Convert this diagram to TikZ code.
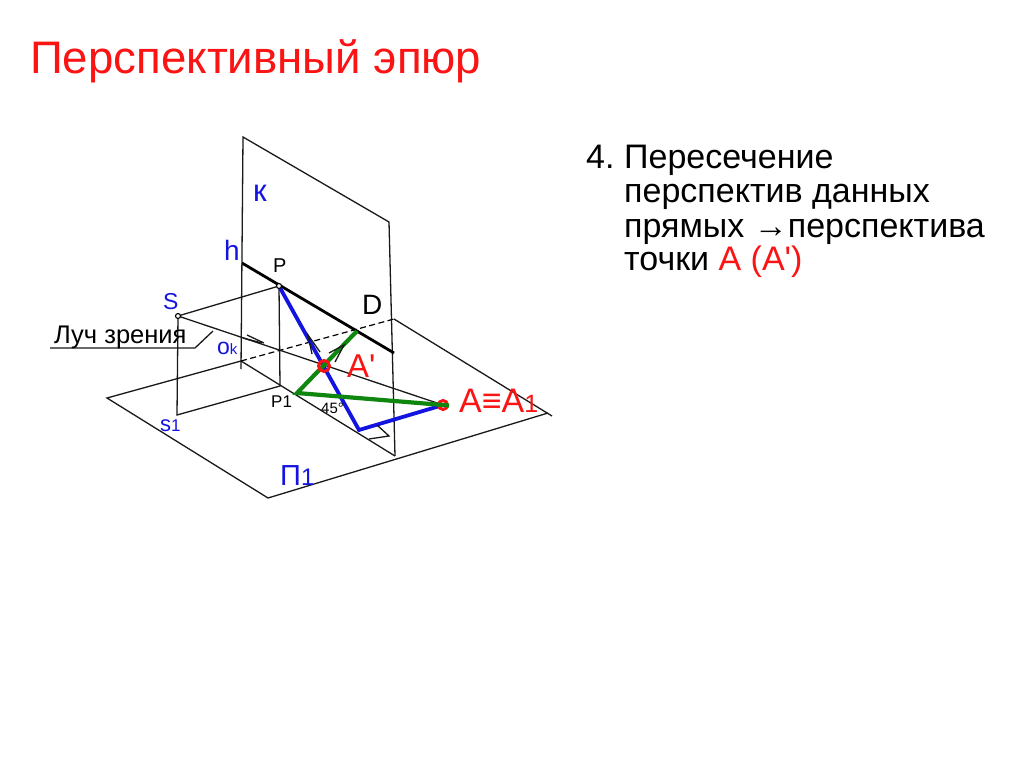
\documentclass[tikz,border=0pt]{standalone}
\usepackage{fontspec}
\setmainfont{Liberation Sans}
\newfontfamily\straightf{Liberation Sans}
\definecolor{tred}{RGB}{250,20,20}
\definecolor{tblue}{RGB}{20,20,225}
\definecolor{tgreen}{RGB}{15,135,15}
\tikzset{
  thin line/.style={draw=black!90,line width=1.3pt},
  dashline/.style={draw=black,line width=1.2pt,dash pattern=on 6pt off 3.5pt},
  blue line/.style={draw=tblue,line width=3.8pt,line join=miter},
  green line/.style={draw=tgreen,line width=4.2pt,line join=miter},
  lbl/.style={inner sep=0pt,anchor=base west},
  redring/.style={circle,draw=tred,line width=3pt,minimum size=11pt,inner sep=0pt},
  pt/.style={circle,draw=black,line width=1.1pt,minimum size=5pt,inner sep=0pt,fill=white}
}
\begin{document}
\begin{tikzpicture}[x=1pt,y=-1pt]
\useasboundingbox[fill=white] (0,0) rectangle (1024,767);
\coordinate (kTL) at (243,137);
\coordinate (kTR) at (389,222);
\coordinate (kBR) at (395,456);
\coordinate (kBL) at (241,369);
\coordinate (o) at (241,361);
\coordinate (gL) at (107,398);
\coordinate (gB) at (268,498);
\coordinate (gR) at (552,416);
\coordinate (gRb) at (548,413);
\coordinate (gT) at (394,319);
\coordinate (S1) at (177,415);
\coordinate (P1) at (280,386);
\coordinate (hL) at (242,263);
\coordinate (hR) at (394,353);
\coordinate (B) at (359,430);
\coordinate (G) at (297,393);
\coordinate (Dp) at (357,331);
\coordinate (ln1) at (50,348);
\coordinate (ln2) at (195,348);
\coordinate (ln3) at (213,331);
\coordinate (S) at (178,316);
\coordinate (P) at (279,286);
\coordinate (Ap) at (324,366);
\coordinate (A) at (443,405);
\coordinate (Ae) at (449,405.5);
% plane K
\draw[thin line] (kBL) -- (kTL) -- (kTR) -- (kBR);
% ground
\draw[thin line] (o) -- (gL) -- (gB) -- (gRb);
\draw[thin line] (o) -- (kBR);
\draw[dashline] (o) -- (gT);
\draw[thin line] (gT) -- (gR);
% construction
\draw[thin line] (S) -- (P);
\draw[thin line] (S) -- (S1) -- (P1) -- (P);
\draw[thin line] (S) -- (A);
% viewing-ray label leader
\draw[thin line] (ln1) -- (ln2) -- (ln3);
% ticks
\draw[thin line] (247,335) -- (264,343);
\draw[thin line] (243,338) -- (262,343);
% horizon
\draw[draw=black,line width=2.8pt] (hL) -- (hR);
% blue & green
\draw[blue line] (P) -- (B) -- (A);
\node[redring,minimum size=9pt] (ringA) at (A) {};
\draw[green line] (Dp) -- (G) -- (Ae);
% arrows
\draw[thin line] (312,354) -- (308,335) -- (320,352);
\draw[thin line] (329,353) -- (344,345) -- (335,362);
% right angle mark
\draw[thin line] (369,439) -- (389,436) -- (377,425);
% rings
\node[redring] (ringAp) at (Ap) {};
\node[circle,fill=tgreen,minimum size=3pt,inner sep=0pt] (dotAp) at (Ap) {};
\node[pt] (Sm) at (S) {};
\node[pt] (Pm) at (P) {};
% texts
\node[lbl,text=tred] (title) at (30,74) {\fontsize{45.6}{45.6}\selectfont Перспективный эпюр};
\node[lbl] (n4) at (586,169) {\fontsize{34}{34}\selectfont 4.};
\node[lbl] (t1) at (624,169) {\fontsize{34}{34}\selectfont Пересечение};
\node[lbl] (t2) at (624,203) {\fontsize{34}{34}\selectfont перспектив данных};
\node[lbl] (t3) at (624,237) {\fontsize{34}{34}\selectfont прямых →перспектива};
\node[lbl] (t4) at (624,270) {\fontsize{34}{34}\selectfont\straightf точки \textcolor{tred}{А (А')}};
\node[lbl,text=tblue] (lk) at (253,202) {\fontsize{31}{31}\selectfont к};
\node[lbl,text=tblue] (lh) at (224,260) {\fontsize{28}{28}\selectfont h};
\node[lbl] (lP) at (273,272) {\fontsize{20}{20}\selectfont P};
\node[lbl,text=tblue] (lS) at (163,309) {\fontsize{23}{23}\selectfont S};
\node[lbl] (lD) at (362,314) {\fontsize{28}{28}\selectfont D};
\node[lbl] (ll) at (54,343) {\fontsize{25.5}{25.5}\selectfont Луч зрения};
\node[lbl,text=tblue] (lo) at (217,354) {\fontsize{23}{23}\selectfont о\fontsize{15}{15}\selectfont k};
\node[lbl,text=tred] (lAp) at (347,377) {\fontsize{33}{33}\selectfont\straightf А'};
\node[lbl] (lP1) at (271,407) {\fontsize{17}{17}\selectfont Р1};
\node[lbl] (l45) at (321,413) {\fontsize{15}{15}\selectfont 45°};
\node[lbl,text=tred] (lA) at (459,412) {\fontsize{34}{34}\selectfont А≡А\fontsize{25}{25}\selectfont 1};
\node[lbl,text=tblue] (ls1) at (160,431) {\fontsize{22}{22}\selectfont s\fontsize{17}{17}\selectfont 1};
\node[lbl,text=tblue] (lPi) at (280,485) {\fontsize{29}{29}\selectfont П\fontsize{24}{24}\selectfont 1};
\end{tikzpicture}
\end{document}
